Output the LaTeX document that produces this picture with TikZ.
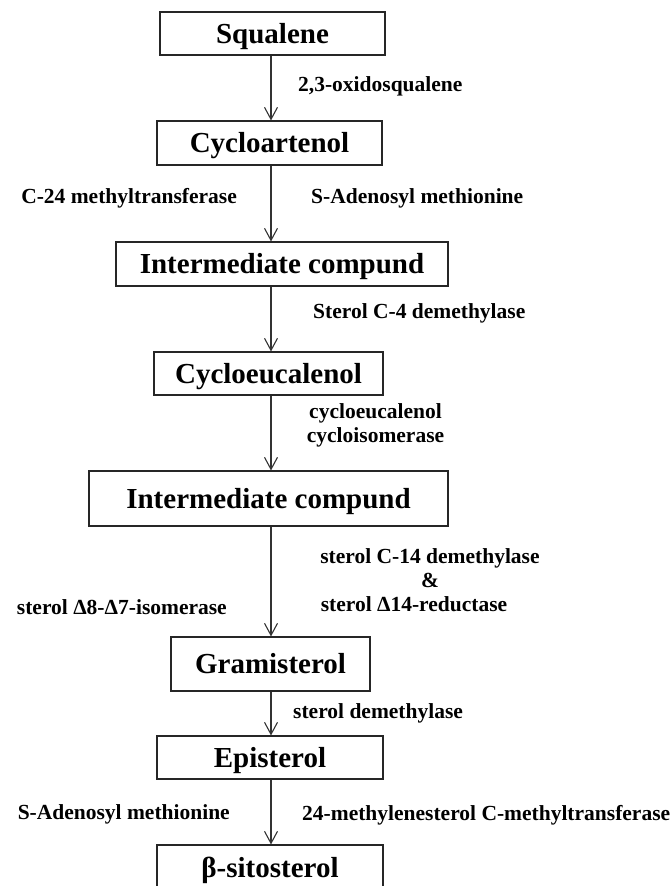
\documentclass[tikz,border=0pt]{standalone}
\usepackage{fontspec}
\setmainfont{Liberation Serif}
\usetikzlibrary{arrows.meta}

\tikzset{
  box/.style={draw=black!85, line width=1.1pt, inner sep=0pt,
    text height=19pt, text depth=0pt,
    font=\fontsize{29}{32}\selectfont\bfseries},
  lbl/.style={inner sep=0pt, font=\fontsize{21.5}{24}\selectfont\bfseries},
  arr/.style={draw=black!80, line width=1.1pt,
    -{Straight Barb[length=12pt,width=13pt,line width=1.1pt]}}
}

\begin{document}
\begin{tikzpicture}[x=1pt,y=-1pt]

\useasboundingbox (0,0) rectangle (671,886);
\coordinate (spine) at (271,0);

% boxes
\node[box, minimum width=225pt, minimum height=43pt] (sq) at (272.5,33.5) {Squalene};
\node[box, minimum width=225pt, minimum height=44pt] (cyc) at (269.5,143) {Cycloartenol};
\node[box, minimum width=332pt, minimum height=44pt] (int1) at (282,264) {Intermediate compund};
\node[box, minimum width=229pt, minimum height=43pt] (cyeu) at (268.5,373.5) {Cycloeucalenol};
\node[box, minimum width=359pt, minimum height=55pt] (int2) at (268.5,498.5) {Intermediate compund};
\node[box, minimum width=199pt, minimum height=54pt] (gram) at (270.5,664) {Gramisterol};
\node[box, minimum width=226pt, minimum height=43pt] (epi) at (270,757.5) {Episterol};
\node[box, minimum width=226pt, minimum height=46pt] (sito) at (270,868) {β-sitosterol};

% arrows
\draw[arr] (sq.south -| spine) -- (cyc.north -| spine);
\draw[arr] (cyc.south -| spine) -- (int1.north -| spine);
\draw[arr] (int1.south -| spine) -- (cyeu.north -| spine);
\draw[arr] (cyeu.south -| spine) -- (int2.north -| spine);
\draw[arr] (int2.south -| spine) -- (gram.north -| spine);
\draw[arr] (gram.south -| spine) -- (epi.north -| spine);
\draw[arr] (epi.south -| spine) -- (sito.north -| spine);

% labels
\node[lbl, anchor=west] (l1) at (298,86) {2,3-oxidosqualene};
\node[lbl, anchor=east] (l2) at (237,198) {C-24 methyltransferase};
\node[lbl, anchor=west] (l3) at (311,198) {S-Adenosyl methionine};
\node[lbl, anchor=west] (l4) at (313,313) {Sterol C-4 demethylase};
\node[lbl, align=center] (l5) at (375.5,425) {cycloeucalenol\\cycloisomerase};
\node[lbl, align=center] (l6) at (430,580) {sterol C-14 demethylase\\\&\\sterol Δ14-reductase\hspace*{32pt}};
\node[lbl, anchor=east] (l7) at (227,607) {sterol Δ8-Δ7-isomerase};
\node[lbl, anchor=west] (l8) at (293,713) {sterol demethylase};
\node[lbl, anchor=east] (l9) at (230,814) {S-Adenosyl methionine};
\node[lbl, anchor=west] (l10) at (302,815) {24-methylenesterol C-methyltransferase};

\end{tikzpicture}
\end{document}
